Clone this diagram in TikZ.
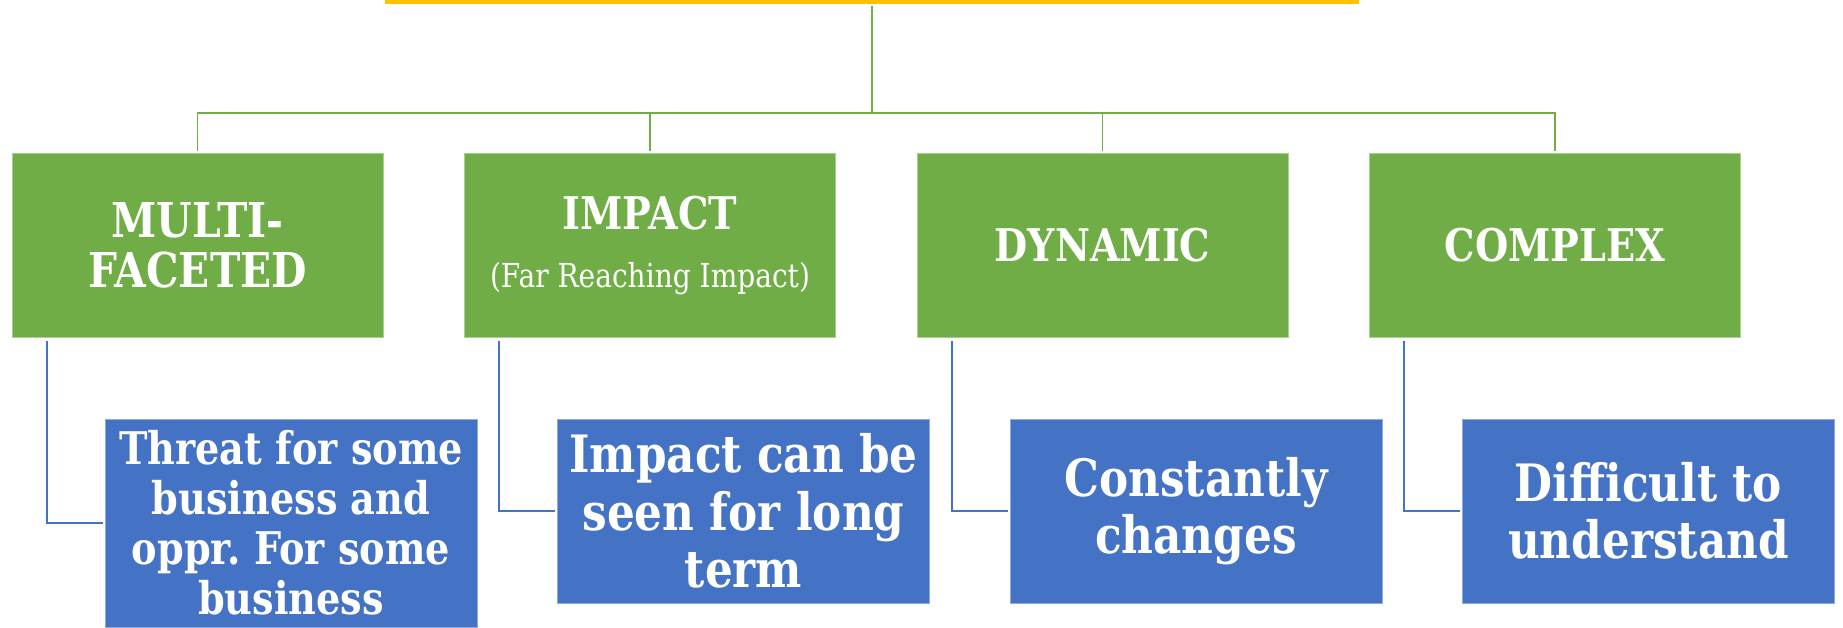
\documentclass[tikz,border=0pt]{standalone}
\usepackage{fontspec}
\newfontfamily\slab{DejaVu Serif}[FakeStretch=0.85]
\frenchspacing
\definecolor{leaf}{HTML}{70AD47}
\definecolor{leafedge}{HTML}{A9D18E}
\definecolor{sky}{HTML}{4472C4}
\definecolor{skyedge}{HTML}{8FAADC}
\definecolor{gold}{HTML}{FFC000}
\newcommand{\fs}[2]{\fontsize{#1}{#2}\selectfont}
\tikzset{
  topic/.style={fill=leaf, draw=leafedge, line width=0.8pt, minimum width=371pt,
    minimum height=184pt, inner sep=0pt, align=center, text=white,
    font=\slab\bfseries\fs{45}{50}},
  detail/.style={fill=sky, draw=skyedge, line width=0.8pt, minimum width=372pt,
    minimum height=184pt, inner sep=0pt, align=center, text=white,
    font=\slab\bfseries\fs{51.5}{57.5}},
  bus/.style={draw=leaf, line width=1.8pt},
  link/.style={draw=sky, line width=1.8pt},
}
\begin{document}
\begin{tikzpicture}[x=1pt,y=-1pt]
\useasboundingbox (0,0) rectangle (1843,627);

% title bar (its lower edge only)
\node[fill=gold, minimum width=974pt, minimum height=4pt, inner sep=0pt, anchor=north] (head) at (872,0) {};

% topic boxes
\node[topic, font=\slab\bfseries\fs{48}{50}] (g1) at (197.5,245) {MULTI-\\FACETED};
\node[topic] (g2) at (650,245) {IMPACT\\[8pt]{\fs{33}{36}\mdseries(Far Reaching Impact)}};
\node[topic] (g3) at (1102.5,245) {DYNAMIC};
\node[topic] (g4) at (1555,245) {COMPLEX};

% detail boxes
\node[detail, minimum height=208pt, font=\slab\bfseries\fs{45}{50}] (b1) at (291,523)
  {Threat for some\\business and\\oppr. For some\\business};
\node[detail] (b2) at (743.5,511) {Impact can be\\seen for long\\term};
\node[detail] (b3) at (1196,511) {Constantly\\changes};
\node[detail] (b4) at (1648.5,511) {Difficult to\\understand};

% tree connectors
\coordinate (hub) at (872,113);
\draw[bus] ([yshift=-2pt]head.south) -- (hub);
\foreach \g in {g1,g2,g3,g4}
  \draw[bus, shorten >=2pt] (hub) -| (\g.north);

% detail connectors
\foreach \g/\b in {g1/b1,g2/b2,g3/b3,g4/b4}
  \draw[link, shorten >=2pt] ([xshift=35pt,yshift=-4pt]\g.south west) |- (\b.west);
\end{tikzpicture}
\end{document}
